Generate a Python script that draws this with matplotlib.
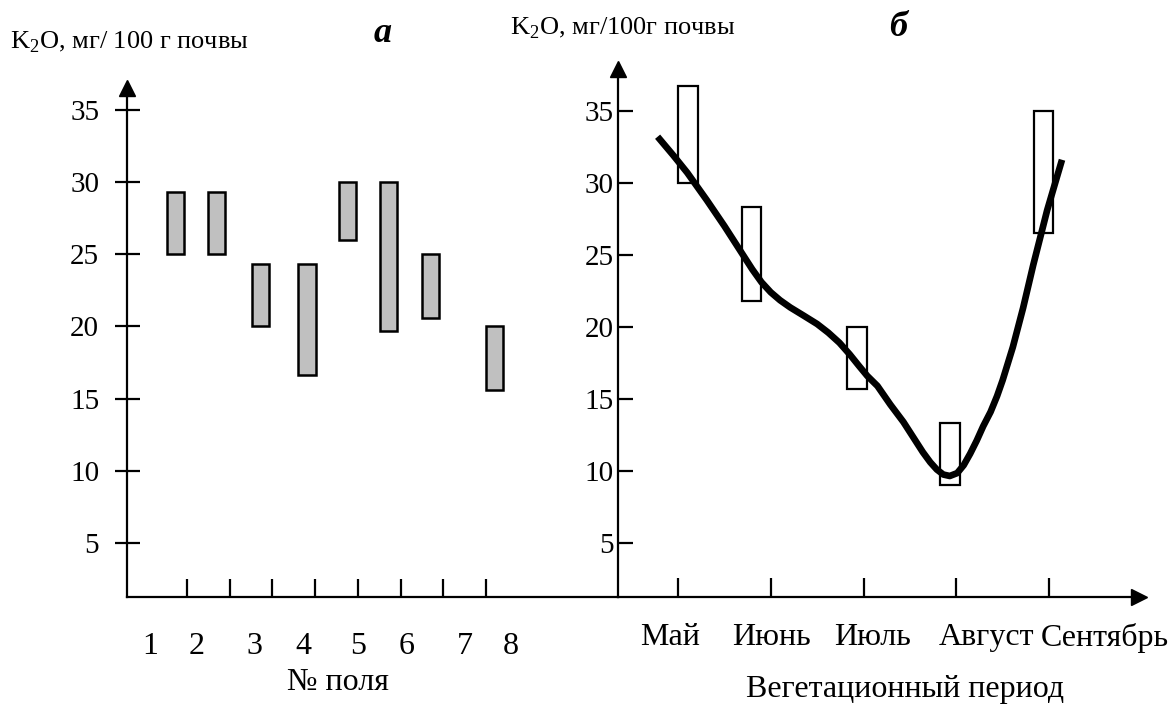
#!/usr/bin/env python3

import matplotlib
matplotlib.use('Agg')
import matplotlib.pyplot as plt
import numpy as np

# --- data ---
fields = ['1', '2', '3', '4', '5', '6', '7', '8']
field_low = [25, 25, 20, 16.6, 26, 19.7, 20.6, 15.6]
field_high = [29.3, 29.3, 24.3, 24.3, 30, 30, 25, 20]

months = ['Май', 'Июнь', 'Июль', 'Август', 'Сентябрь']
month_low = [30, 21.8, 15.7, 9.0, 26.5]
month_high = [36.7, 28.3, 20, 13.3, 35]

# smoothed trend line (month units, Май = 1)
curve_t = [0.78, 0.95, 1.10, 1.31, 1.50, 1.67, 1.80, 1.90, 2.00, 2.10, 2.21,
           2.35, 2.50, 2.62, 2.74, 2.85, 2.95, 3.04, 3.15, 3.29, 3.43, 3.54,
           3.64, 3.72, 3.79, 3.86, 3.93, 4.01, 4.08, 4.15, 4.22, 4.29, 4.37,
           4.44, 4.50, 4.61, 4.72, 4.83, 4.98, 5.14]
curve_k2o = [33.2, 31.9, 30.7, 28.8, 27.0, 25.3, 24.0, 23.1, 22.4, 21.85, 21.35,
             20.8, 20.2, 19.6, 18.9, 18.1, 17.3, 16.6, 15.9, 14.6, 13.4, 12.3,
             11.3, 10.6, 10.1, 9.75, 9.65, 9.85, 10.4, 11.2, 12.1, 13.1, 14.1,
             15.2, 16.3, 18.6, 21.3, 24.3, 28.1, 31.6]

yticks = [5, 10, 15, 20, 25, 30, 35]

# --- layout (scanned drawing is not evenly aligned) ---
bar_pos = [0.72, 1.70, 2.71, 3.81, 4.75, 5.71, 6.69, 8.19]
field_label_pos = [0.13, 1.23, 2.59, 3.72, 5.0, 6.15, 7.51, 8.59]
box_pos = [1.11, 1.79, 2.93, 3.93, 4.94]
month_label_pos = [0.91, 2.01, 3.10, 4.33, 5.60]

plt.rcParams['font.family'] = ['Liberation Serif', 'DejaVu Serif']
plt.rcParams['mathtext.fontset'] = 'custom'
plt.rcParams['mathtext.rm'] = 'Liberation Serif'
plt.rcParams['axes.linewidth'] = 1.6

W, H = 1172, 710
fig = plt.figure(figsize=(W / 100, H / 100), dpi=100)


def px_box(x0, x1, ytop, ybot):
    return [x0 / W, 1 - ybot / H, (x1 - x0) / W, (ybot - ytop) / H]


ax1 = fig.add_axes(px_box(127, 618, 88, 597))
ax2 = fig.add_axes(px_box(618, 1139, 69, 597))

for ax in (ax1, ax2):
    ax.spines['top'].set_visible(False)
    ax.spines['right'].set_visible(False)
    ax.set_yticks(yticks)
    ax.set_yticklabels([str(v) for v in yticks], fontsize=21)
    ax.patch.set_visible(False)
    ax.xaxis.remove_overlapping_locs = False

# panel a
ax1.bar(bar_pos, np.array(field_high) - np.array(field_low), bottom=field_low,
        width=0.4, color='#c0c0c0', edgecolor='black', linewidth=1.8)
ax1.set_xlim(-0.405, 11.09)
ax1.set_ylim(1.26, 36.5)
ax1.tick_params(axis='y', direction='inout', length=18, width=1.6, pad=11)
ax1.set_xticks(range(1, 9), minor=True)
ax1.set_xticks(field_label_pos)
ax1.set_xticklabels(fields, fontsize=23)
ax1.tick_params(axis='x', which='major', length=0, pad=25)
ax1.tick_params(axis='x', which='minor', direction='in', length=13, width=1.6)
ax1.plot(0, 1, marker='^', ms=11, color='black', transform=ax1.transAxes, clip_on=False)

# panel б
ax2.bar(box_pos, np.array(month_high) - np.array(month_low), bottom=month_low,
        width=0.21, color='white', edgecolor='black', linewidth=1.6)
ax2.plot(curve_t, curve_k2o, color='black', linewidth=4.8,
         solid_capstyle='butt', solid_joinstyle='round')
ax2.set_xlim(0.353, 5.97)
ax2.set_ylim(1.25, 37.9)
ax2.tick_params(axis='y', direction='in', length=11, width=1.6, pad=3)
ax2.set_xticks(range(1, 6), minor=True)
ax2.set_xticks(month_label_pos)
ax2.set_xticklabels(months, fontsize=23)
ax2.tick_params(axis='x', which='major', length=0, pad=19)
ax2.tick_params(axis='x', which='minor', direction='in', length=14, width=1.6)
ax2.plot(0, 1, marker='^', ms=11, color='black', transform=ax2.transAxes, clip_on=False)
ax2.plot(1, 0, marker='>', ms=11, color='black', transform=ax2.transAxes, clip_on=False)

# titles and axis captions
fig.text(10 / W, 1 - 42 / H, r'K$_2$O, мг/ 100 г почвы', fontsize=19, va='center', ha='left')
fig.text(383 / W, 1 - 33 / H, 'а', fontsize=26, fontweight='bold', style='italic',
         va='center', ha='center')
fig.text(510 / W, 1 - 28 / H, r'K$_2$O, мг/100г почвы', fontsize=19, va='center', ha='left')
fig.text(898 / W, 1 - 28 / H, 'б', fontsize=26, fontweight='bold', style='italic',
         va='center', ha='center')
fig.text(338 / W, 1 - 682 / H, '№ поля', fontsize=23, va='center', ha='center')
fig.text(905 / W, 1 - 690 / H, 'Вегетационный период', fontsize=23, va='center', ha='center')

fig.savefig('out.png', dpi=100)
